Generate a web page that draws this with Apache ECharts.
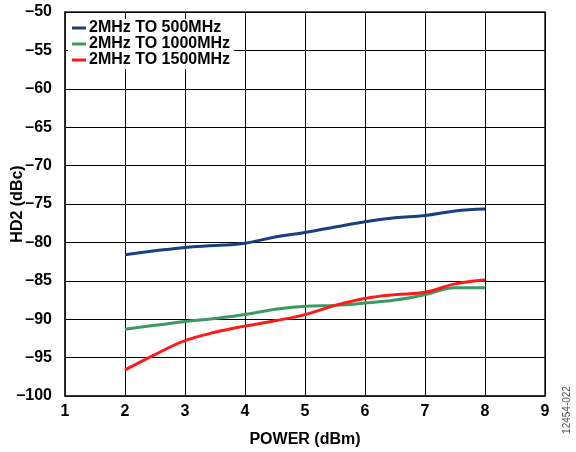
<!DOCTYPE html>
<html>
<head>
<meta charset="utf-8">
<script src="https://cdn.jsdelivr.net/npm/echarts@6/dist/echarts.min.js"></script>
<style>
  html, body { margin: 0; padding: 0; background: #fff; }
  #chart { width: 576px; height: 452px; }
</style>
</head>
<body>
<div id="chart"></div>
<script>
  // power in dBm
  const power = [2, 2.5, 3, 3.5, 4, 4.5, 5, 5.5, 6, 6.5, 7, 7.5, 8]
  // HD2 in dBc
  const hd2_500 = [-81.6, -81.1, -80.65, -80.4, -80.1, -79.3, -78.7, -78.0, -77.3, -76.8, -76.5, -75.9, -75.65]
  const hd2_1000 = [-91.3, -90.8, -90.3, -89.9, -89.4, -88.7, -88.3, -88.2, -87.9, -87.5, -86.8, -85.9, -85.9]
  const hd2_1500 = [-96.6, -94.6, -92.8, -91.7, -90.9, -90.2, -89.4, -88.2, -87.3, -86.8, -86.5, -85.4, -84.9]
  const seriesNames = ['2MHz TO 500MHz', '2MHz TO 1000MHz', '2MHz TO 1500MHz']
  const seriesColors = ['#173f82', '#3a9a62', '#ff1a1a']

  const chart = echarts.init(document.getElementById('chart'))
  const dash = v => String(v).replace('-', '\u2013')
  const font = 'Liberation Sans, Arial, sans-serif'

  const pairs = arr => power.map((p, i) => [p, arr[i]])

  chart.setOption({
    animation: false,
    textStyle: { fontFamily: font },
    grid: {
      left: 65,
      right: 31,
      top: 12,
      bottom: 56,
      outerBoundsMode: 'none',
      show: true,
      borderColor: '#222',
      borderWidth: 1.5
    },
    legend: {
      orient: 'vertical',
      left: 68,
      top: 19,
      padding: [1, 4],
      itemGap: 0,
      itemWidth: 14,
      itemHeight: 3,
      icon: 'rect',
      backgroundColor: '#fff',
      data: seriesNames,
      textStyle: { fontFamily: font, fontWeight: 'bold', fontSize: 16, color: '#000', padding: [0, 0, 0, -2] }
    },
    xAxis: {
      type: 'value',
      min: 1,
      max: 9,
      interval: 1,
      name: 'POWER (dBm)',
      nameLocation: 'middle',
      nameGap: 36,
      nameMoveOverlap: false,
      nameTextStyle: { fontFamily: font, fontWeight: 'bold', fontSize: 16, color: '#000' },
      axisLine: { lineStyle: { color: '#222', width: 1.5 } },
      axisTick: { show: false },
      axisLabel: { fontFamily: font, fontWeight: 'bold', fontSize: 16, color: '#000', margin: 8 },
      splitLine: { lineStyle: { color: '#000', width: 1 } }
    },
    yAxis: {
      type: 'value',
      min: -100,
      max: -50,
      interval: 5,
      name: 'HD2 (dBc)',
      nameLocation: 'middle',
      nameGap: 39,
      nameRotate: 90,
      nameMoveOverlap: false,
      nameTextStyle: { fontFamily: font, fontWeight: 'bold', fontSize: 16, color: '#000' },
      axisLine: { show: true, lineStyle: { color: '#222', width: 1.5 } },
      axisTick: { show: false },
      axisLabel: { fontFamily: font, fontWeight: 'bold', fontSize: 16, color: '#000', margin: 13, formatter: dash },
      splitLine: { lineStyle: { color: '#000', width: 1 } }
    },
    series: [hd2_500, hd2_1000, hd2_1500].map((arr, i) => ({
      name: seriesNames[i],
      type: 'line',
      smooth: 0.4,
      symbol: 'none',
      color: seriesColors[i],
      lineStyle: { width: 3, color: seriesColors[i] },
      data: pairs(arr)
    })),
    graphic: [{
      type: 'text',
      x: 567,
      y: 410,
      rotation: Math.PI / 2,
      style: { text: '12454-022', fontFamily: font, fontSize: 10, fill: '#555', align: 'center', verticalAlign: 'middle' }
    }]
  })
</script>
</body>
</html>
